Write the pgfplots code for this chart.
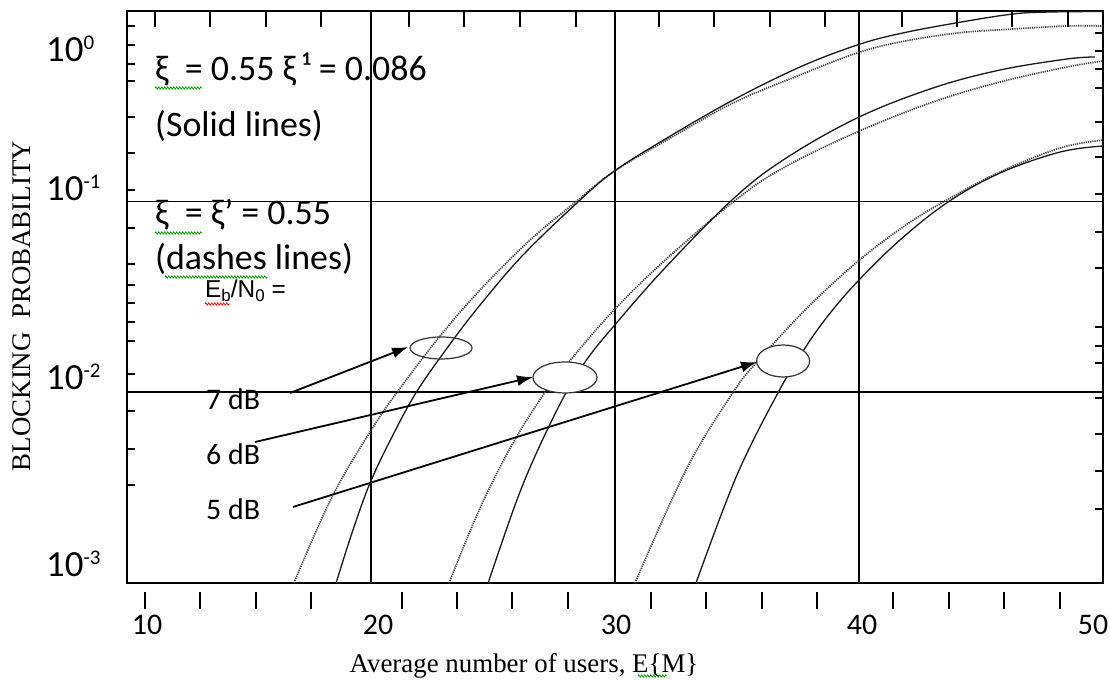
\documentclass[border=0pt]{standalone}
\usepackage{fontspec}
\setmainfont{Carlito}
\newfontfamily\arialf{Liberation Sans}
\newfontfamily\timesf{Liberation Serif}
\usepackage{pgfplots}
\pgfplotsset{compat=1.18}
\usetikzlibrary{arrows.meta,decorations.pathmorphing}

\tikzset{
  solidc/.style={black!90, line width=1.3bp},
  dotc/.style={black!75, line width=1.7bp, dash pattern=on 1.2bp off 1.0bp},
}
\newcommand\ylab[1]{\fontsize{37}{40}\selectfont 10\raisebox{12bp}{\fontsize{21}{21}\selectfont #1}}
\newcommand\sq[3]{\draw[#1, line width=0.8bp, decorate, decoration={zigzag, amplitude=1.1bp, segment length=3bp}] #2 -- #3;}

\begin{document}
\begin{tikzpicture}
\path[use as bounding box] (0,0) rectangle (1110bp,681bp);

% main axis with data
\begin{axis}[scale only axis, width=976bp, height=572.3bp,
  xmin=10, xmax=50, ymin=0.001, ymax=1, ymode=log,
  at={(127bp,98bp)}, anchor=south west,
  axis line style={line width=1.8bp},
  xtick={20,30,40}, ytick={0.1,0.01}, xticklabels={}, yticklabels={},
  xminorticks=false, yminorticks=false,
  grid=major, major grid style={black, line width=1.5bp}, major tick length=0pt]

% 7 dB dotted
\addplot[dotc, smooth, tension=0.6] coordinates {(16.84,0.001) (18.40,0.002824) (19.96,0.006188) (21.11,0.01015) (22.83,0.01971) (24.47,0.03435) (26.52,0.06281) (28.44,0.1006) (29.92,0.1427) (32.13,0.2100) (34.84,0.3282) (37.58,0.4603) (39.92,0.6003) (41.68,0.6854) (44.02,0.7641) (46.31,0.8017) (48.52,0.8313) (50,0.8313)};
% 7 dB solid
\addplot[solidc, smooth, tension=0.6] coordinates {(18.57,0.001) (19.22,0.001829) (19.96,0.003343) (20.90,0.005969) (21.89,0.01015) (23.24,0.01789) (24.47,0.02866) (26.23,0.05241) (28.44,0.09817) (29.92,0.1427) (32.13,0.2151) (34.84,0.3402) (37.58,0.5069) (39.92,0.6606) (41.68,0.7588) (44.02,0.8647) (46.31,0.9610) (47.83,0.9844) (50,0.9904)};
% 6 dB dotted
\addplot[dotc, smooth, tension=0.6] coordinates {(23.20,0.001) (24.47,0.002473) (25.82,0.005418) (27.17,0.01015) (28.28,0.01530) (29.92,0.02666) (31.97,0.04816) (34.84,0.09936) (36.89,0.1498) (39.92,0.2313) (43.03,0.3321) (45.78,0.4229) (48.52,0.5069) (50,0.5449)};
% 6 dB solid
\addplot[solidc, smooth, tension=0.6] coordinates {(24.80,0.001) (25.98,0.002724) (26.93,0.005288) (28.03,0.01015) (28.89,0.01512) (29.92,0.02198) (31.97,0.04372) (34.75,0.1006) (36.89,0.1650) (39.92,0.2739) (43.03,0.3934) (45.78,0.4888) (48.52,0.5582) (49.67,0.5718)};
% 5 dB dotted
\addplot[dotc, smooth, tension=0.6] coordinates {(30.82,0.001) (32.95,0.004007) (34.88,0.01015) (35.82,0.01440) (37.87,0.02764) (39.92,0.04816) (41.80,0.07348) (43.52,0.1006) (45.78,0.1427) (48.24,0.1907) (50,0.2100)};
% 5 dB solid
\addplot[solidc, smooth, tension=0.6] coordinates {(33.32,0.001) (35.00,0.003684) (36.72,0.01015) (37.79,0.01706) (38.69,0.02480) (39.92,0.03783) (41.68,0.06281) (43.65,0.09936) (45.78,0.1410) (48.24,0.1816) (50,0.1953)};

% arrows
\draw[-{Latex[length=16bp,width=11bp]}, line width=1.8bp] (axis cs:16.68,0.00991) -- (axis cs:21.52,0.01727);
\draw[-{Latex[length=16bp,width=11bp]}, line width=1.8bp] (axis cs:15.25,0.005485) -- (axis cs:26.64,0.01202);
\draw[-{Latex[length=16bp,width=11bp]}, line width=1.8bp] (axis cs:16.80,0.002503) -- (axis cs:35.82,0.01440);
\coordinate (e7) at (axis cs:22.87,0.01706);
\coordinate (e6) at (axis cs:27.95,0.01195);
\coordinate (e5) at (axis cs:36.89,0.01458);
\end{axis}

% ellipses (annotation shapes)
\draw[black!80, line width=1.2bp] (e7) ellipse [x radius=31bp, y radius=11bp];
\filldraw[black!80, fill=white, line width=1.2bp] (e6) ellipse [x radius=32bp, y radius=15.5bp];
\filldraw[black!80, fill=white, line width=1.2bp] (e5) ellipse [x radius=26.5bp, y radius=16bp];

% top ticks (inside)
\begin{axis}[scale only axis, width=976bp, height=572.3bp,
  xmin=10, xmax=50, ymin=0.001, ymax=1, ymode=log,
  at={(127bp,98bp)}, anchor=south west, axis line style={draw=none},
  xminorticks=false, yminorticks=false, xticklabels={}, yticklabels={},
  tick style={black, line width=1.3bp}, ytick=\empty,
  xtick={11.15,13.40,15.70,17.95,21.56,23.81,26.11,28.40,31.80,34.06,36.35,38.61,41.76,44.02,46.27,48.57},
  xtick pos=right, tick align=inside, major tick length=16bp]
\end{axis}
% left ticks (inside)
\begin{axis}[scale only axis, width=976bp, height=572.3bp,
  xmin=10, xmax=50, ymin=0.001, ymax=1, ymode=log,
  at={(127bp,98bp)}, anchor=south west, axis line style={draw=none},
  xminorticks=false, yminorticks=false, xticklabels={}, yticklabels={},
  tick style={black, line width=1.3bp}, xtick=\empty,
  ytick={0.831,0.661,0.5254,0.428,0.2772,0.1795,0.1148,0.0726,0.0470,0.0365,0.02936,0.02334,0.01856,0.01246,0.00797,0.00504,0.00326},
  ytick pos=left, tick align=inside, major tick length=8bp]
\end{axis}
% right ticks (inside)
\begin{axis}[scale only axis, width=976bp, height=572.3bp,
  xmin=10, xmax=50, ymin=0.001, ymax=1, ymode=log,
  at={(127bp,98bp)}, anchor=south west, axis line style={draw=none},
  xminorticks=false, yminorticks=false, xticklabels={}, yticklabels={},
  tick style={black, line width=1.3bp}, xtick=\empty,
  ytick={0.764,0.6147,0.4949,0.3934,0.2610,0.1710,0.1094,0.06918,0.04479,0.02198,0.01748,0.01423,0.00933,0.00604,0.003865,0.002443},
  ytick pos=right, tick align=inside, major tick length=8bp]
\end{axis}
% bottom ticks (detached, below the frame)
\begin{axis}[scale only axis, width=976bp, height=572.3bp,
  xmin=10, xmax=50, ymin=0.001, ymax=1, ymode=log,
  at={(127bp,89bp)}, anchor=south west, axis line style={draw=none},
  xminorticks=false, yminorticks=false, xticklabels={}, yticklabels={},
  tick style={black, line width=1.3bp}, ytick=\empty,
  xtick={10.74,12.99,15.29,17.54,21.27,23.52,25.78,28.07,31.48,33.73,36.02,38.28,41.39,43.69,45.94,48.24},
  xtick pos=left, tick align=outside, major tick length=17bp]
\end{axis}

% y tick labels
\node[anchor=base west, inner sep=0] at (46bp,619bp) {\ylab{0}};
\node[anchor=base west, inner sep=0] at (46bp,480bp) {\ylab{-1}};
\node[anchor=base west, inner sep=0] at (46bp,291bp) {\ylab{-2}};
\node[anchor=base west, inner sep=0] at (46bp,104bp) {\ylab{-3}};
% x tick labels
\foreach \xx/\lab in {147/10, 378/20, 616/30, 862/40, 1093/50}
  \node[anchor=base, inner sep=0] at (\xx bp,46bp) {\fontsize{30}{32}\selectfont\lab};

% annotations
\node[anchor=base west, inner sep=0] at (155bp,600bp) {\fontsize{36}{40}\selectfont ξ\ \ = 0.55 ξ\,¹ = 0.086};
\node[anchor=base west, inner sep=0] at (155bp,544bp) {\fontsize{36}{40}\selectfont (Solid lines)};
\node[anchor=base west, inner sep=0] at (155bp,456bp) {\fontsize{36}{40}\selectfont ξ\ \ = ξ’ = 0.55};
\node[anchor=base west, inner sep=0] at (155bp,411bp) {\fontsize{36}{40}\selectfont (dashes lines)};
\node[anchor=base west, inner sep=0] at (205bp,383bp) {\arialf\fontsize{24.5}{26}\selectfont E\raisebox{-4bp}{\fontsize{17}{17}\selectfont b}/N\raisebox{-4bp}{\fontsize{17}{17}\selectfont 0} =};
\node[anchor=base west, inner sep=0] at (206bp,271bp) {\fontsize{30}{32}\selectfont 7 dB};
\node[anchor=base west, inner sep=0] at (206bp,216bp) {\fontsize{30}{32}\selectfont 6 dB};
\node[anchor=base west, inner sep=0] at (206bp,161bp) {\fontsize{30}{32}\selectfont 5 dB};
\sq{green!60!black}{(155bp,593bp)}{(202bp,593bp)}
\sq{green!60!black}{(155bp,448bp)}{(202bp,448bp)}
\sq{green!60!black}{(165bp,404bp)}{(267bp,404bp)}
\sq{red}{(205bp,377bp)}{(230bp,377bp)}
\sq{green!60!black}{(638bp,5bp)}{(667bp,5bp)}

% axis titles
\node[rotate=90, inner sep=0] at (22bp,375bp) {\timesf\fontsize{27}{30}\selectfont BLOCKING\ \ PROBABILITY};
\node[anchor=base, inner sep=0] at (524bp,9bp) {\timesf\fontsize{27}{30}\selectfont Average number of users, E\{M\}};
\end{tikzpicture}
\end{document}
